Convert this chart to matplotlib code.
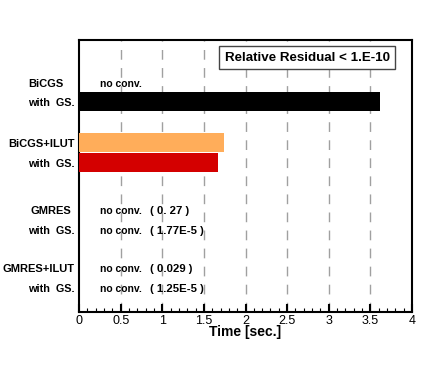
import matplotlib
matplotlib.use('Agg')
from matplotlib import pyplot as plt
from matplotlib.ticker import MultipleLocator

plt.rcParams['font.family'] = ['Liberation Sans', 'DejaVu Sans']

methods = ['BiCGS', 'BiCGS+ILUT', 'GMRES', 'GMRES+ILUT']
# time without / with Gauss-Seidel, None = no convergence
time_plain = [None, 1.74, None, None]
time_gs = [3.62, 1.67, None, None]
# final residual when not converged
resid_plain = ['', '', '( 0. 27 )', '( 0.029 )']
resid_gs = ['', '', '( 1.77E-5 )', '( 1.25E-5 )']
colors_plain = ['#000000', '#FFAD5A', '#000000', '#000000']
colors_gs = ['#000000', '#D40000', '#000000', '#000000']
xticks = [0, 0.5, 1, 1.5, 2, 2.5, 3, 3.5, 4]

row_pos = [2.05, 5.02, 8.27, 11.13]
name_x = [-0.19, -0.05, -0.09, -0.05]
gap = 0.97
fs = 8.0
dy = 0.08

fig = plt.figure(figsize=(4.36, 3.92), dpi=100)
ax = fig.add_axes([79/436, 1-312/392, 333/436, 272/392])
ax.set_xlim(0, 4)
ax.set_ylim(13.3, 0)

for i, m in enumerate(methods):
    y1 = row_pos[i]
    y2 = y1 + gap
    if time_plain[i] is not None:
        ax.barh(y1, time_plain[i], height=0.95, color=colors_plain[i], zorder=3)
    else:
        ax.text(0.25, y1 + dy, 'no conv.', ha='left', va='center', fontsize=7.5, fontweight='bold')
        if resid_plain[i]:
            ax.text(0.85, y1 + dy, resid_plain[i], ha='left', va='center', fontsize=8.2, fontweight='bold')
    if time_gs[i] is not None:
        ax.barh(y2, time_gs[i], height=0.95, color=colors_gs[i], zorder=3)
    else:
        ax.text(0.25, y2 + dy, 'no conv.', ha='left', va='center', fontsize=7.5, fontweight='bold')
        if resid_gs[i]:
            ax.text(0.85, y2 + dy, resid_gs[i], ha='left', va='center', fontsize=8.2, fontweight='bold')
    ax.text(name_x[i], y1 + dy, m, ha='right', va='center', fontsize=fs, fontweight='bold')
    ax.text(-0.05, y2 + dy, 'with  GS.', ha='right', va='center', fontsize=7.8, fontweight='bold')

for x in xticks[1:-1]:
    ax.axvline(x, color='#A0A0A0', lw=1, dashes=(7, 6), zorder=1)

ax.set_xticks(xticks)
ax.set_xticklabels(['%g' % t for t in xticks], fontsize=9)
ax.xaxis.set_minor_locator(MultipleLocator(0.1))
ax.tick_params(axis='x', which='major', direction='in', length=6, width=1.5, pad=2)
ax.tick_params(axis='x', which='minor', direction='in', length=3, width=0.8)
ax.set_yticks([])
for s in ax.spines.values():
    s.set_linewidth(1.5)
ax.set_xlabel('Time [sec.]', fontsize=10, fontweight='bold', labelpad=-1)

ax.text(3.73, 0.87, 'Relative Residual < 1.E-10', ha='right', va='center', fontsize=9.6,
        fontweight='bold', bbox=dict(boxstyle='square,pad=0.4', fc='white', ec='#444444', lw=1), zorder=5)

plt.savefig('out.png', dpi=100)
